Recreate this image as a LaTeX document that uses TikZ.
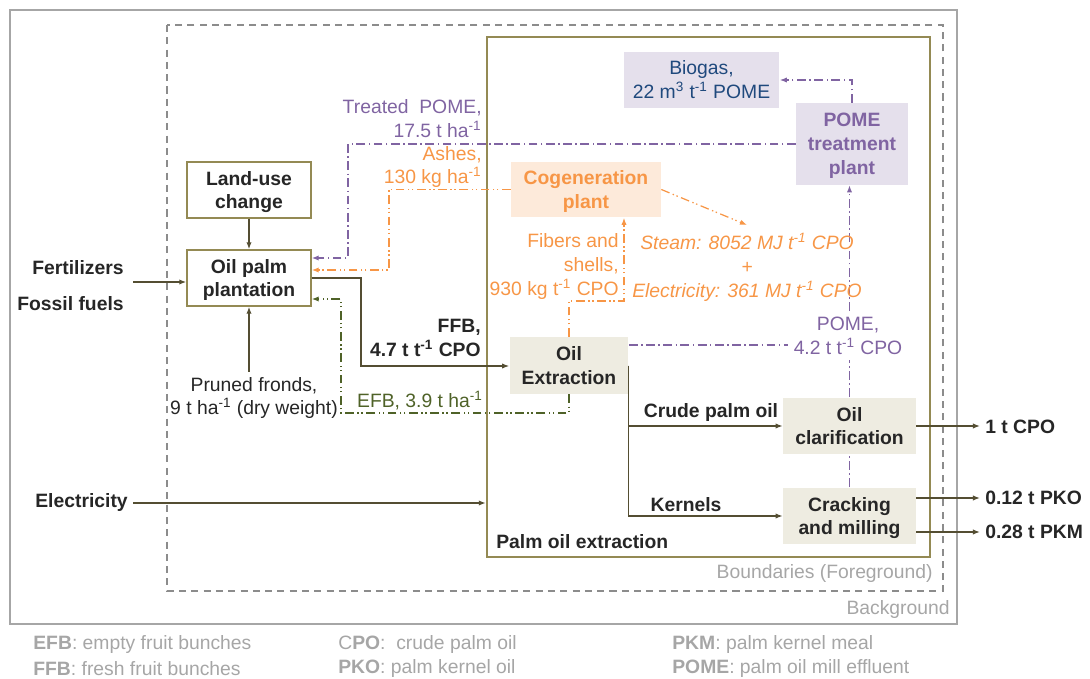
\documentclass[tikz,border=0pt]{standalone}
\usepackage{fontspec}
\setmainfont{Liberation Sans}
\usepackage{tikz}
\usetikzlibrary{arrows.meta}
\definecolor{txtdark}{HTML}{262626}
\definecolor{frameolive}{HTML}{948A54}
\definecolor{arrowolive}{HTML}{544E32}
\definecolor{pomepurple}{HTML}{8064A2}
\definecolor{cogenorange}{HTML}{F79646}
\definecolor{efbgreen}{HTML}{4F6228}
\definecolor{biogasblue}{HTML}{1F497D}
\definecolor{boxbeige}{HTML}{EEECE1}
\definecolor{boxpeach}{HTML}{FDEADA}
\definecolor{boxlavender}{HTML}{E5E0EC}
\definecolor{bggrey}{HTML}{A6A6A6}
\definecolor{dashgrey}{HTML}{8C8C8C}
\newcommand{\inv}{\textsuperscript{-1}}
\newcommand{\mainsz}{\fontsize{11}{13.6}\selectfont}

\begin{document}
\begin{tikzpicture}[x=0.02cm,y=-0.02cm,>={Latex[length=4pt,width=3pt]},
every node/.style={font=\mainsz,text=txtdark,inner sep=0pt},
box/.style={draw=frameolive,line width=0.8pt,fill=white,align=center,text depth=0pt,font=\mainsz\bfseries},
unit/.style={align=center,font=\mainsz\bfseries},
fillbox/.style={unit,text depth=0pt},
flow/.style={->,draw=arrowolive,line width=0.7pt},
pomeline/.style={->,draw=pomepurple,line width=0.7pt,dash pattern=on 5pt off 2pt on 0.8pt off 2pt},
ashline/.style={->,draw=cogenorange,line width=0.7pt,dash pattern=on 5pt off 2pt on 0.8pt off 1.5pt on 0.8pt off 2pt},
efbline/.style={->,draw=efbgreen,line width=0.7pt,dash pattern=on 5pt off 2pt on 0.8pt off 1.5pt on 0.8pt off 2pt}]
\useasboundingbox (0,0) rectangle (1090,679);

% background and boundaries
\draw[bggrey,line width=1.2pt] (10,10) rectangle (957,624);
\draw[dashgrey,line width=0.8pt,dash pattern=on 4pt off 3pt] (167,25) rectangle (943,591);
\node[draw=frameolive,line width=1.4pt,minimum width=8.86cm,minimum height=10.4cm] (P) at (708.5,297) {};
\node[text=bggrey,anchor=east] (Q) at (950,610) {Background};
\node[text=bggrey,anchor=east] (R) at (933,574) {Boundaries (Foreground)};
\node[unit,anchor=west] (S) at (496,542) {Palm oil extraction};

% process boxes
\node[box,minimum width=2.48cm,minimum height=1.12cm] (A) at (249,190) {Land-use\\change};
\node[box,minimum width=2.48cm,minimum height=1.12cm] (B) at (249,278) {Oil palm\\plantation};
\node[fillbox,fill=boxpeach,text=cogenorange,minimum width=3cm,minimum height=1.12cm] (C) at (586,189.5) {Cogeneration\\plant};
\node[fillbox,fill=boxlavender,text=pomepurple,minimum width=2.24cm,minimum height=1.64cm] (D) at (852,144) {POME\\treatment\\plant};
\node[fillbox,fill=boxbeige,minimum width=2.38cm,minimum height=1.14cm] (E) at (569,365.5) {Oil\\Extraction};
\node[align=center,fill=boxlavender,text=biogasblue,minimum width=3.12cm,minimum height=1.14cm] (F) at (701.5,80) {Biogas,\\22 m\textsuperscript{3} t\inv{} POME};
\node[fillbox,fill=boxbeige,minimum width=2.66cm,minimum height=1.14cm] (G) at (849.5,426) {Oil\\clarification};
\node[fillbox,fill=boxbeige,minimum width=2.66cm,minimum height=1.14cm] (H) at (849.5,516) {Cracking\\and milling};

% inputs and outputs
\node[unit,anchor=east] (I1) at (124,268) {Fertilizers};
\node[unit,anchor=east] (I2) at (124,304) {Fossil fuels};
\node[unit,anchor=east,outer sep=3pt] (N) at (133,503) {Electricity};
\node[align=center,outer sep=3pt] (J) at (254,398) {Pruned fronds,\\9 t ha\inv{} (dry weight)};
\node[unit,anchor=west,outer sep=3pt] (K) at (980,427) {1 t CPO};
\node[unit,anchor=west,outer sep=3pt] (L) at (980,498) {0.12 t PKO};
\node[unit,anchor=west,outer sep=3pt] (M) at (980,532) {0.28 t PKM};

\coordinate (f1) at (133,282);
\coordinate (s1) at (361,366);
\coordinate (p1) at (348,258);
\coordinate (q1) at (389,270);
\coordinate (r1) at (341,413);
\coordinate (r2) at (341,299);
\coordinate (t1) at (624,301);
\coordinate (t2) at (747,225);
\coordinate (u1) at (851,345);

% main flows
\draw[flow] (f1) -- (B.west |- f1);
\draw[flow] (A.south) -- (B.north);
\draw[flow] (B.south |- J.north) -- (B.south);
\draw[flow] (B.east) -| (s1) -- (E.west |- s1);
\draw[flow] (N.east) -- (N.east -| P.west);
\draw[flow] (E.east) |- (G.west);
\draw[flow] (E.east) |- (H.west);
\draw[flow] (G.east) -- (G.east -| K.west);
\draw[flow] (H.east |- L.west) -- (L.west);
\draw[flow] (H.east |- M.west) -- (M.west);

% by-products
\draw[pomeline] (D.west) -| (p1) -- (B.east |- p1);
\draw[pomeline] (D.north) |- (F.east);
\draw[pomeline,-] (E.east |- u1) -- (u1);
\draw[pomeline,-] (H.north) -- (G.south);
\draw[pomeline] (G.north) -- (G.north |- D.south);
\draw[ashline] (C.west) -| (q1) -- (B.east |- q1);
\draw[ashline] (E.north) |- (t1) -- (C.south -| t1);
\draw[ashline] (C.east) -- (t2);
\draw[efbline] (E.south) |- (r1) -- (r2) -- (B.east |- r2);

% flow labels
\node[align=right,anchor=east,text=pomepurple] (T1) at (482,119) {Treated~~POME,\\17.5 t ha\inv};
\node[align=right,anchor=east,text=cogenorange] (T2) at (482,167) {Ashes,\\130 kg ha\inv};
\node[unit,align=right,anchor=east] (T3) at (481,338) {FFB,\\4.7 t t\inv{} CPO};
\node[text=efbgreen] (T4) at (420,401) {EFB, 3.9 t ha\inv};
\node[align=right,anchor=east,text=cogenorange] (T5) at (619,266.5) {Fibers and\\shells,\\930 kg t\inv{} CPO};
\node[align=center,text=cogenorange,font=\mainsz\itshape] (T6) at (747,267) {Steam: 8052 MJ t\inv{} CPO\\+\\Electricity: 361 MJ t\inv{} CPO};
\node[align=center,text=pomepurple,fill=white,inner sep=3pt] (T7) at (848,336) {POME,\\4.2 t t\inv{} CPO};
\node[unit] (T8) at (711,413) {Crude palm oil};
\node[unit] (T9) at (686,505) {Kernels};

% abbreviations
\node[anchor=west,text=bggrey] (L1) at (33,645) {\textbf{EFB}: empty fruit bunches};
\node[anchor=west,text=bggrey] (L2) at (33,669) {\textbf{FFB}: fresh fruit bunches};
\node[anchor=west,text=bggrey] (L3) at (338,645) {C\textbf{PO}:\ \ crude palm oil};
\node[anchor=west,text=bggrey] (L4) at (338,669) {\textbf{PKO}: palm kernel oil};
\node[anchor=west,text=bggrey] (L5) at (672,645) {\textbf{PKM}: palm kernel meal};
\node[anchor=west,text=bggrey] (L6) at (672,669) {\textbf{POME}: palm oil mill effluent};
\end{tikzpicture}
\end{document}
